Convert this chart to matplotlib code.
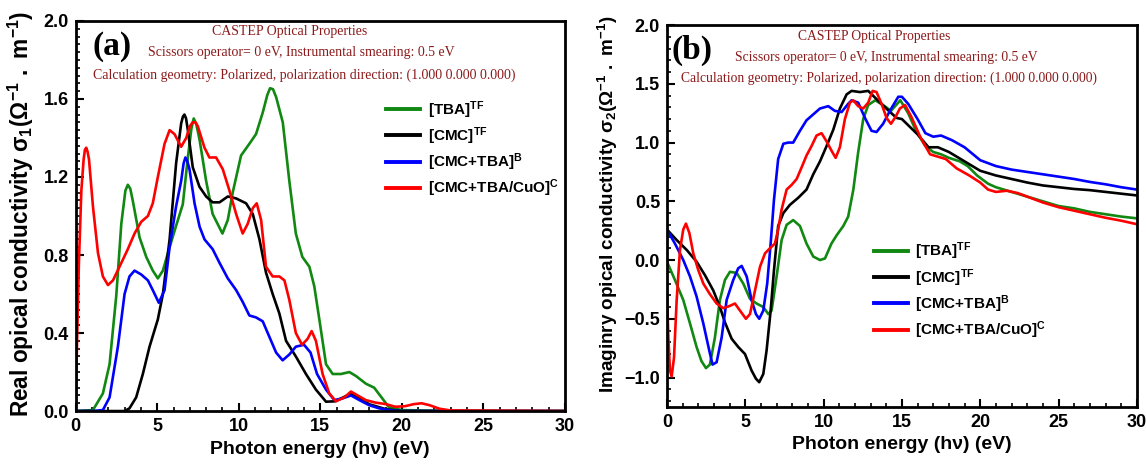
import matplotlib
matplotlib.use('Agg')
import matplotlib.pyplot as plt
from matplotlib.ticker import MultipleLocator

plt.rcParams['font.family'] = ['Liberation Sans', 'DejaVu Sans']
plt.rcParams['mathtext.fontset'] = 'custom'
plt.rcParams['mathtext.rm'] = 'Liberation Sans:bold'
plt.rcParams['mathtext.it'] = 'Liberation Sans:bold'
plt.rcParams['mathtext.bf'] = 'Liberation Sans:bold'

# ---- panel (a): real part sigma_1 ----
tba_a_e = [0, 1.06, 1.67, 2.08, 2.49, 2.8, 3.05, 3.2, 3.35, 3.5, 3.92, 4.33, 4.73, 5.04, 5.35, 5.76, 6.16,
           6.57, 6.88, 7.1, 7.24, 7.4, 7.6, 8.0, 8.4, 9.0, 9.33, 9.63, 10.14, 10.65, 11.06, 11.47, 11.75, 11.92,
           12.1, 12.29, 12.7, 13.1, 13.5, 13.9, 14.33, 14.63, 14.94, 15.35, 15.76, 16.27, 16.78, 17.18,
           17.8, 18.3, 18.8, 19.2, 20.0, 22.0, 30]
tba_a = [0, 0.005, 0.09, 0.24, 0.59, 0.96, 1.13, 1.16, 1.14, 1.08, 0.89, 0.79, 0.72, 0.68, 0.72, 0.84, 0.95,
         1.06, 1.30, 1.45, 1.50, 1.47, 1.39, 1.18, 1.01, 0.91, 0.98, 1.12, 1.31, 1.37, 1.42, 1.53, 1.62, 1.655,
         1.65, 1.61, 1.48, 1.18, 0.91, 0.79, 0.74, 0.64, 0.47, 0.24, 0.19, 0.19, 0.20, 0.18,
         0.14, 0.12, 0.065, 0.02, 0.005, 0.002, 0.0]

cmc_a_e = [0, 3.0, 3.3, 3.71, 4.12, 4.53, 5.04, 5.35, 5.76, 6.16, 6.47, 6.58, 6.67, 6.77, 6.88, 7.18, 7.59,
           8.0, 8.4, 8.82, 9.33, 9.84, 10.45, 10.86, 11.27, 11.67, 12.08, 12.49, 12.9, 13.5,
           14.12, 14.73, 15.35, 15.9, 16.4, 16.9, 17.5, 18.0, 19.0, 20.0, 30]
cmc_a = [0, 0, 0.014, 0.07, 0.19, 0.33, 0.47, 0.60, 0.88, 1.27, 1.475, 1.51, 1.52, 1.50, 1.44, 1.25, 1.15,
         1.10, 1.07, 1.07, 1.10, 1.09, 1.065, 1.01, 0.88, 0.71, 0.60, 0.50, 0.36, 0.28,
         0.19, 0.11, 0.048, 0.05, 0.07, 0.09, 0.06, 0.035, 0.01, 0.0, 0.0]

cmcb_a_e = [0, 1.06, 1.67, 2.08, 2.59, 3.0, 3.3, 3.61, 4.02, 4.43, 4.73, 5.1, 5.45, 5.76, 6.16,
            6.47, 6.62, 6.73, 6.85, 6.98, 7.29, 7.6, 7.9, 8.4, 8.82, 9.33, 9.84, 10.24, 10.65, 11.06, 11.47,
            11.88, 12.29, 12.69, 13.1, 13.5, 14.0, 14.4, 14.8, 15.35, 15.86, 16.37, 16.88,
            17.4, 18.0, 18.6, 19.4, 20.0, 30]
cmcb_a = [0, 0, 0.005, 0.07, 0.33, 0.60, 0.69, 0.72, 0.70, 0.67, 0.62, 0.555, 0.62, 0.84, 1.05,
          1.18, 1.27, 1.30, 1.28, 1.24, 1.065, 0.945, 0.88, 0.83, 0.76, 0.68, 0.62, 0.56, 0.49, 0.48, 0.46,
          0.38, 0.30, 0.26, 0.29, 0.33, 0.34, 0.30, 0.19, 0.11, 0.056, 0.065, 0.08,
          0.056, 0.03, 0.014, 0.002, 0.0, 0.0]

cuo_a_e = [0, 0.08, 0.2, 0.35, 0.49, 0.57, 0.65, 0.73, 0.82, 1.06, 1.37, 1.67, 1.98, 2.29, 2.69, 3.2, 3.61,
           4.02, 4.43, 4.73, 5.04, 5.45, 5.76, 6.06, 6.47, 6.78, 7.0, 7.18, 7.35, 7.49, 7.9, 8.2, 8.61, 9.02,
           9.43, 9.84, 10.24, 10.55, 10.86, 11.1, 11.37, 11.67, 12.08, 12.49, 12.8, 13.1, 13.5,
           13.88, 14.22, 14.47, 14.73, 15.14, 15.55, 15.96, 16.47, 16.88, 17.29, 17.8, 18.4,
           19.0, 19.6, 20.2, 20.7, 21.2, 21.7, 22.3, 23.0, 30]
cuo_a = [0, 0.33, 0.76, 1.13, 1.29, 1.34, 1.35, 1.33, 1.29, 1.05, 0.81, 0.69, 0.646, 0.67, 0.74, 0.83, 0.91,
         0.97, 1.0, 1.065, 1.20, 1.37, 1.44, 1.42, 1.355, 1.40, 1.46, 1.48, 1.48, 1.46, 1.35, 1.30, 1.30, 1.24,
         1.13, 1.01, 0.91, 0.96, 1.04, 1.065, 0.98, 0.74, 0.69, 0.69, 0.67, 0.57, 0.40,
         0.34, 0.37, 0.41, 0.36, 0.19, 0.09, 0.05, 0.07, 0.10, 0.08, 0.056, 0.043,
         0.036, 0.022, 0.025, 0.035, 0.04, 0.03, 0.012, 0.003, 0.0]

# ---- panel (b): imaginary part sigma_2 ----
tba_b_e = [0, 0.51, 1.04, 1.47, 1.89, 2.2, 2.49, 2.74, 3.06, 3.38, 3.7, 4.02, 4.45, 4.87, 5.3,
           5.72, 6.15, 6.47, 6.68, 7.0, 7.32, 7.64, 8.06, 8.49, 8.91, 9.34, 9.77, 10.09, 10.5,
           10.83, 11.26, 11.57, 11.9, 12.2, 12.53, 12.85, 13.3, 13.9, 14.3, 14.9, 15.4, 15.9,
           16.5, 17.0, 17.5, 18.0, 18.7, 19.2, 19.8, 20.5, 21, 22, 23, 24, 25, 26, 27, 28, 29, 30]
tba_b = [-0.014, -0.17, -0.34, -0.54, -0.74, -0.86, -0.92, -0.89, -0.66, -0.34, -0.17, -0.10, -0.11, -0.20, -0.33,
         -0.37, -0.40, -0.46, -0.43, -0.14, 0.17, 0.30, 0.34, 0.29, 0.14, 0.03, 0.0, 0.014, 0.14,
         0.21, 0.29, 0.37, 0.60, 0.91, 1.20, 1.32, 1.36, 1.31, 1.27, 1.36, 1.25, 1.10,
         0.97, 0.92, 0.90, 0.87, 0.84, 0.80, 0.72, 0.65, 0.62, 0.58, 0.54, 0.50, 0.46, 0.44, 0.41, 0.39, 0.37, 0.355]

cmc_b_e = [0, 0.62, 1.26, 1.89, 2.43, 2.96, 3.38, 3.7, 4.13, 4.55, 4.98, 5.4, 5.68, 5.89, 6.15,
           6.36, 6.62, 6.83, 7.1, 7.43, 7.85, 8.38, 8.91, 9.34, 9.77, 10.19, 10.62, 11.04, 11.47,
           11.79, 12.32, 12.85, 13.38, 14.0, 14.66, 15.0, 16.0, 16.7, 17.3, 18.0, 19.0, 20, 21,
           22, 23, 24, 25, 26, 27, 28, 29, 30]
cmc_b = [0.26, 0.17, 0.086, -0.014, -0.13, -0.26, -0.40, -0.53, -0.67, -0.74, -0.80, -0.94, -1.01, -1.04, -0.97,
         -0.77, -0.43, -0.09, 0.29, 0.40, 0.47, 0.53, 0.60, 0.73, 0.84, 0.97, 1.11, 1.29, 1.41,
         1.44, 1.43, 1.44, 1.37, 1.29, 1.21, 1.20, 1.07, 0.96, 0.96, 0.92, 0.84, 0.76, 0.72,
         0.69, 0.66, 0.635, 0.62, 0.605, 0.595, 0.58, 0.565, 0.55]

cmcb_b_e = [0, 0.51, 1.04, 1.47, 1.89, 2.32, 2.7, 2.91, 3.17, 3.49, 3.81, 4.23, 4.55, 4.77, 5.09,
            5.4, 5.68, 5.89, 6.15, 6.4, 6.62, 6.83, 7.1, 7.43, 7.74, 8.06, 8.49, 8.91, 9.34, 9.77,
            10.3, 10.72, 11.15, 11.57, 11.79, 12.21, 12.64, 13.06, 13.38, 13.8, 14.23, 14.77,
            15.0, 15.4, 16.0, 16.5, 17.0, 17.5, 18.2, 19, 20, 21, 22, 23, 24, 25, 26, 27, 28, 29, 30]
cmcb_b = [0.26, 0.14, 0.0, -0.14, -0.31, -0.54, -0.77, -0.89, -0.87, -0.66, -0.34, -0.17, -0.07, -0.05, -0.14,
          -0.34, -0.46, -0.50, -0.43, -0.20, 0.14, 0.51, 0.86, 0.99, 1.0, 1.0, 1.10, 1.19, 1.24, 1.29,
          1.31, 1.27, 1.26, 1.33, 1.36, 1.34, 1.21, 1.10, 1.09, 1.16, 1.27, 1.39,
          1.39, 1.33, 1.20, 1.08, 1.05, 1.06, 1.02, 0.96, 0.85, 0.80, 0.77, 0.75, 0.73, 0.71, 0.69, 0.665, 0.645, 0.62, 0.60]

cuo_b_e = [0, 0.09, 0.19, 0.3, 0.45, 0.62, 0.83, 1.04, 1.21, 1.43, 1.68, 2.0, 2.32, 2.74, 3.17,
           3.6, 4.02, 4.34, 4.66, 5.04, 5.3, 5.62, 5.94, 6.26, 6.57, 6.89, 7.1, 7.32, 7.64, 7.96,
           8.28, 8.6, 8.91, 9.23, 9.55, 9.87, 10.19, 10.51, 10.77, 11.04, 11.36, 11.68, 11.89,
           12.21, 12.53, 12.85, 13.13, 13.38, 13.7, 14.02, 14.3, 14.6, 14.87, 15.2, 15.6, 16.2,
           16.8, 17.3, 17.8, 18.5, 19.3, 20.0, 20.5, 21.0, 21.7, 22.4, 23, 24, 25, 26, 27, 28, 29, 30]
cuo_b = [-0.30, -0.66, -0.94, -0.99, -0.83, -0.34, 0.086, 0.26, 0.31, 0.23, 0.057, -0.086, -0.20, -0.29, -0.37,
         -0.41, -0.39, -0.37, -0.43, -0.50, -0.46, -0.26, -0.057, 0.057, 0.10, 0.14, 0.26, 0.43, 0.60, 0.64,
         0.69, 0.79, 0.89, 0.97, 1.06, 1.08, 1.01, 0.93, 0.87, 0.96, 1.20, 1.34, 1.36,
         1.31, 1.29, 1.34, 1.44, 1.43, 1.33, 1.21, 1.16, 1.22, 1.29, 1.32, 1.22, 1.04,
         0.90, 0.88, 0.86, 0.78, 0.72, 0.66, 0.60, 0.58, 0.59, 0.57, 0.54, 0.49, 0.45, 0.42, 0.39, 0.36, 0.335, 0.305]

labels = ['[TBA]$^{TF}$', '[CMC]$^{TF}$', '[CMC+TBA]$^{B}$', '[CMC+TBA/CuO]$^{C}$']
colors = ['#118811', '#000000', '#0000ff', '#ff0000']

info_lines = ['CASTEP Optical Properties',
              'Scissors operator= 0 eV, Instrumental smearing: 0.5 eV',
              'Calculation geometry: Polarized, polarization direction: (1.000 0.000 0.000)']

fig = plt.figure(figsize=(11.46, 4.65), dpi=100)
ax1 = fig.add_axes([0.066, 0.116, 0.427, 0.839])
ax2 = fig.add_axes([0.582, 0.125, 0.410, 0.821])

series_a = [(tba_a_e, tba_a), (cmc_a_e, cmc_a), (cmcb_a_e, cmcb_a), (cuo_a_e, cuo_a)]
series_b = [(tba_b_e, tba_b), (cmc_b_e, cmc_b), (cmcb_b_e, cmcb_b), (cuo_b_e, cuo_b)]

for (e, s), c, lab in zip(series_a, colors, labels):
    ax1.plot(e, s, color=c, lw=1.9, label=lab)
for (e, s), c, lab in zip(series_b, colors, labels):
    ax2.plot(e, s, color=c, lw=1.9, label=lab)

ax1.set_xlim(0, 30)
ax1.set_ylim(0, 2.0)
ax1.yaxis.set_major_locator(MultipleLocator(0.4))
ax1.yaxis.set_minor_locator(MultipleLocator(0.04))
ax1.set_ylabel(r'Real opical conductivity $\mathregular{\sigma_1(\Omega^{-1}\ .\ m^{-1})}$',
               fontsize=16.3, fontweight='bold')
ax1.yaxis.set_label_coords(-0.08, 0.506)

ax2.set_xlim(0, 30)
ax2.set_ylim(-1.25, 2.0)
ax2.yaxis.set_major_locator(MultipleLocator(0.5))
ax2.yaxis.set_minor_locator(MultipleLocator(0.1))
ax2.set_ylabel(r'Imaginry opical conductivity $\mathregular{\sigma_2(\Omega^{-1}\ .\ m^{-1})}$',
               fontsize=13.6, fontweight='bold')
ax2.yaxis.set_label_coords(-0.1, 0.531)

for ax in (ax1, ax2):
    ax.xaxis.set_major_locator(MultipleLocator(5))
    ax.xaxis.set_minor_locator(MultipleLocator(1))
    ax.set_xlabel('Photon energy (hν) (eV)', fontsize=14, fontweight='bold', labelpad=4)
    ax.tick_params(which='both', direction='in', top=False, right=False)
    ax.tick_params(which='major', length=6, width=1.5, labelsize=13, pad=5)
    ax.tick_params(which='minor', length=3, width=1.2)
    for lbl in ax.get_xticklabels() + ax.get_yticklabels():
        lbl.set_fontweight('bold')
    for sp in ax.spines.values():
        sp.set_linewidth(2)

# annotation text (per-line centre and height in axes fractions)
info_a = [(0.437, 0.974), (0.462, 0.918), (0.468, 0.862)]
info_b = [(0.442, 0.971), (0.466, 0.916), (0.472, 0.861)]
for ax, pos, fs in [(ax1, info_a, 10.0), (ax2, info_b, 9.8)]:
    for (xc, y), txt in zip(pos, info_lines):
        ax.text(xc, y, txt, transform=ax.transAxes, ha='center', va='center',
                family='Liberation Serif', fontsize=fs, color='#8b1a1a')

ax1.text(0.035, 0.935, '(a)', transform=ax1.transAxes, ha='left', va='center',
         family='Liberation Serif', fontsize=24, fontweight='bold')
ax2.text(0.01, 0.935, '(b)', transform=ax2.transAxes, ha='left', va='center',
         family='Liberation Serif', fontsize=24, fontweight='bold')

leg_font = {'family': 'Liberation Sans', 'weight': 'bold', 'size': 11}
ax1.legend(loc='upper left', bbox_to_anchor=(0.635, 0.80), frameon=False, prop=leg_font,
           handlelength=2.2, handletextpad=0.5, labelspacing=0.3, borderaxespad=0, borderpad=0)
ax2.legend(loc='upper left', bbox_to_anchor=(0.441, 0.435), frameon=False, prop=leg_font,
           handlelength=2.2, handletextpad=0.5, labelspacing=0.3, borderaxespad=0, borderpad=0)
for lg in (ax1.get_legend(), ax2.get_legend()):
    for h in lg.get_lines():
        h.set_linewidth(2.8)

fig.savefig('out.png', dpi=100)
